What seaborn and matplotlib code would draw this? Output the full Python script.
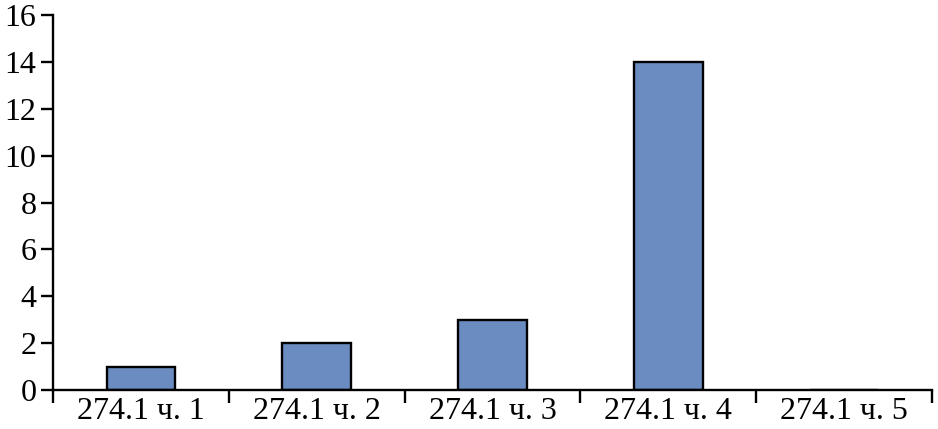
import numpy as np
import pandas as pd
import matplotlib.pyplot as plt
import seaborn as sns

categories = ["274.1 ч. 1", "274.1 ч. 2", "274.1 ч. 3", "274.1 ч. 4", "274.1 ч. 5"]
counts = [1, 2, 3, 14, 0]
yticks = [0, 2, 4, 6, 8, 10, 12, 14, 16]

df = pd.DataFrame({"category": categories, "count": counts})

sns.set_style("ticks")
plt.rcParams["font.family"] = ["Liberation Serif", "DejaVu Serif"]

fig = plt.figure(figsize=(9.38, 4.29), dpi=100)
ax = fig.add_axes([0.0565, 0.0909, 0.937, 0.874])

sns.barplot(data=df, x="category", y="count", color="#6b8cc0", saturation=1,
            width=0.39, edgecolor="black", linewidth=1.7, ax=ax)

ax.set_xlim(-0.5, len(categories) - 0.5)
ax.set_ylim(0, 16)
ax.set_yticks(yticks)
ax.set_xlabel("")
ax.set_ylabel("")
sns.despine(ax=ax)
for s in ["left", "bottom"]:
    ax.spines[s].set_linewidth(1.7)
    ax.spines[s].set_color("black")

# category separators as downward ticks
ax.set_xticks(np.arange(-0.5, len(categories)), minor=True)
ax.tick_params(axis="x", which="major", length=0, pad=5, labelsize=23, colors="black")
ax.tick_params(axis="x", which="minor", length=9, width=1.7, direction="out", color="black")
ax.tick_params(axis="y", length=9, width=1.7, pad=3, labelsize=23, colors="black")

fig.savefig("out.png", dpi=100)
